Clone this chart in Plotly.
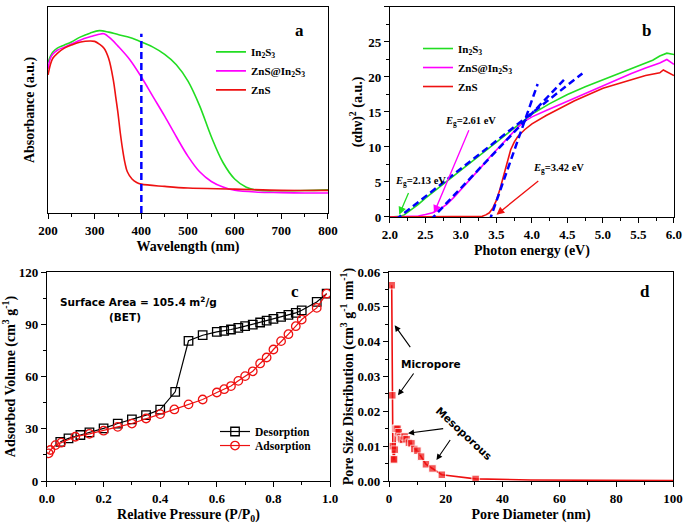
import plotly.graph_objects as go

# ---------------- Panel a: UV-vis absorbance ----------------
wl_in2s3 = [200, 205, 210, 220, 235, 250, 270, 290, 310, 330, 350, 370, 390, 400, 425, 450, 475, 500, 525, 550, 575, 600, 625, 650, 700, 750, 800]
ab_in2s3 = [0.73, 0.76, 0.78, 0.80, 0.815, 0.83, 0.855, 0.873, 0.885, 0.878, 0.866, 0.855, 0.84, 0.83, 0.805, 0.77, 0.72, 0.64, 0.52, 0.37, 0.245, 0.165, 0.125, 0.11, 0.108, 0.109, 0.112]

wl_zns_in2s3 = [200, 205, 210, 220, 235, 250, 270, 290, 310, 320, 335, 350, 375, 400, 425, 450, 475, 500, 525, 550, 575, 600, 650, 700, 750, 800]
ab_zns_in2s3 = [0.70, 0.75, 0.77, 0.79, 0.805, 0.82, 0.84, 0.855, 0.868, 0.87, 0.845, 0.81, 0.745, 0.66, 0.565, 0.47, 0.37, 0.275, 0.2, 0.153, 0.126, 0.11, 0.101, 0.099, 0.097, 0.097]

wl_zns = [200, 205, 210, 220, 235, 250, 270, 290, 300, 310, 320, 330, 340, 345, 350, 355, 360, 365, 370, 380, 390, 400, 450, 500, 600, 700, 800]
ab_zns = [0.67, 0.72, 0.75, 0.775, 0.80, 0.815, 0.83, 0.835, 0.833, 0.82, 0.80, 0.75, 0.645, 0.565, 0.484, 0.387, 0.306, 0.242, 0.2, 0.165, 0.148, 0.14, 0.129, 0.121, 0.116, 0.11, 0.11]

ref_wl = [400, 400]
ref_ab = [0.0, 0.87]

# ---------------- Panel b: Tauc plot ----------------
e_in2s3 = [2.0, 2.1, 2.15, 2.2, 2.3, 2.4, 2.5, 2.6, 2.8, 3.0, 3.2, 3.4, 3.6, 3.8, 3.9, 4.0, 4.25, 4.5, 4.75, 5.0, 5.25, 5.5, 5.7, 5.8, 5.9, 6.0]
t_in2s3 = [0.0, 0.0, 0.1, 0.3, 1.0, 1.8, 2.7, 3.5, 5.1, 6.8, 8.4, 10.0, 11.6, 13.1, 13.9, 14.7, 16.2, 17.5, 18.6, 19.6, 20.6, 21.6, 22.4, 23.0, 23.4, 23.2]

e_zns_in2s3 = [2.0, 2.3, 2.4, 2.5, 2.6, 2.7, 2.8, 2.9, 3.0, 3.1, 3.2, 3.3, 3.4, 3.5, 3.6, 3.7, 3.8, 3.9, 4.0, 4.2, 4.4, 4.6, 4.8, 5.0, 5.2, 5.4, 5.6, 5.8, 5.9, 6.0]
t_zns_in2s3 = [0.0, 0.05, 0.15, 0.35, 0.6, 1.1, 1.8, 2.8, 3.9, 5.0, 6.2, 7.3, 8.5, 9.6, 10.7, 11.8, 12.8, 13.7, 14.3, 15.2, 16.1, 17.0, 17.9, 18.8, 19.6, 20.5, 21.3, 22.0, 22.5, 21.8]

e_zns = [2.0, 3.2, 3.3, 3.35, 3.4, 3.45, 3.5, 3.55, 3.6, 3.65, 3.7, 3.75, 3.8, 3.9, 4.0, 4.2, 4.4, 4.6, 4.8, 5.0, 5.2, 5.4, 5.6, 5.8, 5.85, 6.0]
t_zns = [0.0, 0.0, 0.1, 0.3, 0.6, 1.3, 2.4, 4.0, 6.0, 8.0, 9.6, 10.7, 11.5, 12.5, 13.3, 14.5, 15.6, 16.6, 17.5, 18.4, 19.0, 19.6, 20.2, 20.6, 21.0, 20.2]

fit_in2s3_x = [2.08, 4.71]
fit_in2s3_y = [-0.4, 20.5]
fit_zns_in2s3_x = [2.57, 4.45]
fit_zns_in2s3_y = [-0.45, 19.6]
fit_zns_x = [3.40, 4.08]
fit_zns_y = [-0.6, 19.0]

# ---------------- Panel c: N2 isotherm ----------------
p_des = [0.047, 0.076, 0.118, 0.15, 0.2, 0.25, 0.3, 0.35, 0.4, 0.453, 0.5, 0.55, 0.6, 0.626, 0.65, 0.676, 0.70, 0.727, 0.753, 0.776, 0.8, 0.827, 0.853, 0.879, 0.9, 0.953, 0.988]
v_des = [22.5, 24.5, 26.4, 27.9, 30.2, 33.0, 35.4, 37.8, 41.0, 51.2, 80.5, 83.7, 85.6, 86.2, 87.0, 87.9, 88.9, 89.8, 91.0, 92.1, 93.1, 94.2, 95.4, 96.5, 98.0, 102.8, 107.6]

p_ads = [0.006, 0.012, 0.03, 0.05, 0.1, 0.15, 0.2, 0.25, 0.3, 0.35, 0.4, 0.45, 0.5, 0.55, 0.6, 0.626, 0.65, 0.676, 0.70, 0.727, 0.753, 0.776, 0.8, 0.827, 0.853, 0.879, 0.9, 0.953, 0.988]
v_ads = [15.9, 17.8, 20.6, 22.0, 25.4, 27.1, 28.9, 31.1, 33.0, 35.9, 38.4, 41.1, 44.0, 46.8, 50.8, 52.7, 54.5, 57.5, 60.2, 63.0, 67.5, 70.9, 75.5, 80.3, 84.3, 88.9, 92.7, 99.4, 107.6]

# ---------------- Panel d: pore size distribution ----------------
pore_d = [0.95, 1.15, 1.35, 1.55, 1.8, 2.05, 2.35, 2.65, 3.0, 3.4, 3.85, 4.35, 4.9, 5.5, 6.2, 7.0, 7.9, 8.9, 10.0, 11.3, 13.0, 15.3, 18.6, 30.5, 50, 75, 100]
psd = [0.0562, 0.0246, 0.0100, 0.0062, 0.0062, 0.0090, 0.0150, 0.0150, 0.0150, 0.0140, 0.0125, 0.0120, 0.0118, 0.0128, 0.0120, 0.0110, 0.0108, 0.0092, 0.0087, 0.0070, 0.0048, 0.0036, 0.0018, 0.0006, 0.0003, 0.0002, 0.0001]
psd_marker = [7.5] * 24 + [0, 0, 0]

GREEN = "#22dd22"
MAG = "#ff00ff"
RED = "#ee1111"
BLUE = "#0000ff"
SERIF = "Liberation Serif"

fig = go.Figure()

# panel a
fig.add_trace(go.Scatter(x=wl_in2s3, y=ab_in2s3, mode="lines", name="In<sub>2</sub>S<sub>3</sub>",
                         line=dict(color=GREEN, width=1.6, shape="spline"), xaxis="x", yaxis="y", legend="legend"))
fig.add_trace(go.Scatter(x=wl_zns_in2s3, y=ab_zns_in2s3, mode="lines", name="ZnS@In<sub>2</sub>S<sub>3</sub>",
                         line=dict(color=MAG, width=1.6, shape="spline"), xaxis="x", yaxis="y", legend="legend"))
fig.add_trace(go.Scatter(x=wl_zns, y=ab_zns, mode="lines", name="ZnS",
                         line=dict(color=RED, width=1.6, shape="spline"), xaxis="x", yaxis="y", legend="legend"))
fig.add_trace(go.Scatter(x=ref_wl, y=ref_ab, mode="lines", showlegend=False,
                         line=dict(color=BLUE, width=2.5, dash="7px,4px"), xaxis="x", yaxis="y"))

# panel b
fig.add_trace(go.Scatter(x=e_in2s3, y=t_in2s3, mode="lines", name="In<sub>2</sub>S<sub>3</sub>",
                         line=dict(color=GREEN, width=1.6), xaxis="x2", yaxis="y2", legend="legend2"))
fig.add_trace(go.Scatter(x=e_zns_in2s3, y=t_zns_in2s3, mode="lines", name="ZnS@In<sub>2</sub>S<sub>3</sub>",
                         line=dict(color=MAG, width=1.6), xaxis="x2", yaxis="y2", legend="legend2"))
fig.add_trace(go.Scatter(x=e_zns, y=t_zns, mode="lines", name="ZnS",
                         line=dict(color=RED, width=1.6), xaxis="x2", yaxis="y2", legend="legend2"))
for fx, fy in [(fit_in2s3_x, fit_in2s3_y), (fit_zns_in2s3_x, fit_zns_in2s3_y), (fit_zns_x, fit_zns_y)]:
    fig.add_trace(go.Scatter(x=fx, y=fy, mode="lines", showlegend=False,
                             line=dict(color=BLUE, width=2.5, dash="7px,4px"), xaxis="x2", yaxis="y2"))

# panel c
fig.add_trace(go.Scatter(x=p_des, y=v_des, mode="lines+markers", name="Desorption",
                         line=dict(color="black", width=1.2),
                         marker=dict(symbol="square-open", size=8.5, color="black", line=dict(width=1.3)),
                         xaxis="x3", yaxis="y3", legend="legend3"))
fig.add_trace(go.Scatter(x=p_ads, y=v_ads, mode="lines+markers", name="Adsorption",
                         line=dict(color=RED, width=1.2),
                         marker=dict(symbol="circle-open", size=8.5, color=RED, line=dict(width=1.3)),
                         xaxis="x3", yaxis="y3", legend="legend4"))

# panel d
fig.add_trace(go.Scatter(x=pore_d, y=psd, mode="lines+markers", showlegend=False,
                         line=dict(color=RED, width=1.6),
                         marker=dict(symbol="square", size=psd_marker, color=RED),
                         xaxis="x4", yaxis="y4"))

tickfont = dict(family=SERIF, size=13, color="black", weight="bold")
titlefont = dict(family=SERIF, size=14, color="black", weight="bold")


def ax(domain, rng, dtick, anchor, title, fmt=None, minor=None, labels=True, ticks="outside", standoff=4):
    d = dict(domain=domain, range=rng, dtick=dtick, anchor=anchor, showline=True, linecolor="black",
             linewidth=1.3, mirror=True, ticks=ticks, ticklen=5, tickwidth=1.2, tickcolor="black",
             showgrid=False, zeroline=False, tickfont=tickfont, showticklabels=labels, automargin=False,
             title=dict(text=title, font=titlefont, standoff=standoff))
    if fmt:
        d["tickformat"] = fmt
    if minor:
        d["minor"] = dict(dtick=minor, ticks=ticks, ticklen=3, tickwidth=1, tickcolor="black")
    d["tick0"] = rng[0]
    return d


legfont = dict(family=SERIF, size=11, color="black", weight="bold")
legc = dict(family=SERIF, size=11.5, color="black", weight="bold")

fig.update_layout(
    width=685, height=525,
    margin=dict(l=0, r=0, t=0, b=0, autoexpand=False),
    paper_bgcolor="white", plot_bgcolor="white",
    xaxis=ax([0.0701, 0.4788], [200, 800], 100, "y", "Wavelength (nm)", minor=50),
    yaxis=ax([0.5943, 0.9867], [0, 1], 0.2, "x", "Absorbance (a.u.)", labels=False, ticks="", standoff=8),
    xaxis2=ax([0.5693, 0.9839], [2.0, 6.0], 0.5, "y2", "Photon energy (eV)", fmt=".1f", minor=0.25),
    yaxis2=ax([0.5867, 0.9867], [0, 30], 5, "x2", "(αhν)<sup>2</sup> (a.u.)", minor=2.5, standoff=2),
    xaxis3=ax([0.0686, 0.4818], [0, 1.0], 0.2, "y3", "Relative Pressure (P/P<sub>0</sub>)", fmt=".1f", minor=0.1),
    yaxis3=ax([0.0838, 0.4819], [0, 120], 30, "x3", "Adsorbed Volume (cm<sup>3</sup> g<sup>-1</sup>)", minor=15, standoff=2),
    xaxis4=ax([0.5679, 0.9825], [0, 100], 20, "y4", "Pore Diameter (nm)", minor=10),
    yaxis4=ax([0.0838, 0.4819], [0, 0.06], 0.01, "x4", "Pore Size Distribution (cm<sup>3</sup> g<sup>-1</sup> nm<sup>-1</sup>)", fmt=".2f", minor=0.005, standoff=0),
    legend=dict(x=0.308, y=0.9288, xanchor="left", yanchor="top", bgcolor="rgba(0,0,0,0)", font=legfont),
    legend2=dict(x=0.6102, y=0.9352, xanchor="left", yanchor="top", bgcolor="rgba(0,0,0,0)", font=legfont),
    legend3=dict(x=0.3139, y=0.2057, xanchor="left", yanchor="top", bgcolor="rgba(0,0,0,0)", font=legc),
    legend4=dict(x=0.3139, y=0.179, xanchor="left", yanchor="top", bgcolor="rgba(0,0,0,0)", font=legc),
)

bold_serif = dict(family=SERIF, size=10.5, color="black", weight="bold")
comic = dict(family="DejaVu Sans", size=10.5, color="black", weight="bold")
letter = dict(family=SERIF, size=17, color="black", weight="bold")

ann = [
    dict(x=739, y=0.884, xref="x", yref="y", text="a", showarrow=False, font=letter),
    dict(x=5.61, y=26.6, xref="x2", yref="y2", text="b", showarrow=False, font=letter),
    dict(x=0.876, y=109, xref="x3", yref="y3", text="c", showarrow=False, font=letter),
    dict(x=90, y=0.0543, xref="x4", yref="y4", text="d", showarrow=False, font=letter),
    # panel b labels
    dict(x=2.75, y=13.6, xref="x2", yref="y2", xanchor="left", text="<i>E</i><sub>g</sub>=2.61 eV", showarrow=False, font=bold_serif),
    dict(x=2.04, y=5.0, xref="x2", yref="y2", xanchor="left", text="<i>E</i><sub>g</sub>=2.13 eV", showarrow=False, font=bold_serif),
    dict(x=3.98, y=6.9, xref="x2", yref="y2", xanchor="left", text="<i>E</i><sub>g</sub>=3.42 eV", showarrow=False, font=bold_serif),
    dict(x=2.62, y=0.57, ax=3.12, ay=12.6, xref="x2", yref="y2", axref="x2", ayref="y2", text="",
         showarrow=True, arrowhead=2, arrowsize=1.2, arrowwidth=1.3, arrowcolor=MAG),
    dict(x=2.13, y=0.33, ax=2.27, ay=3.65, xref="x2", yref="y2", axref="x2", ayref="y2", text="",
         showarrow=True, arrowhead=2, arrowsize=1.2, arrowwidth=1.3, arrowcolor=GREEN),
    dict(x=3.5, y=0.33, ax=4.11, ay=5.3, xref="x2", yref="y2", axref="x2", ayref="y2", text="",
         showarrow=True, arrowhead=2, arrowsize=1.2, arrowwidth=1.3, arrowcolor=RED),
    # panel c text
    dict(x=0.324, y=102.8, xref="x3", yref="y3", text="Surface Area = 105.4 m<sup>2</sup>/g", showarrow=False, font=comic),
    dict(x=0.276, y=94.2, xref="x3", yref="y3", text="(BET)", showarrow=False, font=comic),
    # panel d text and arrows
    dict(x=14.9, y=0.0337, xref="x4", yref="y4", text="Micropore", showarrow=False, font=comic),
    dict(x=26.3, y=0.0137, xref="x4", yref="y4", text="Mesoporous", showarrow=False, font=comic, textangle=43),
    dict(x=2.0, y=0.0447, ax=7.86, ay=0.0380, xref="x4", yref="y4", axref="x4", ayref="y4", text="",
         showarrow=True, arrowhead=2, arrowsize=1.1, arrowwidth=1.1, arrowcolor="black"),
    dict(x=3.17, y=0.0246, ax=9.04, ay=0.0313, xref="x4", yref="y4", axref="x4", ayref="y4", text="",
         showarrow=True, arrowhead=2, arrowsize=1.1, arrowwidth=1.1, arrowcolor="black"),
    dict(x=6.69, y=0.0137, ax=19.6, ay=0.0151, xref="x4", yref="y4", axref="x4", ayref="y4", text="",
         showarrow=True, arrowhead=2, arrowsize=1.1, arrowwidth=1.1, arrowcolor="black"),
    dict(x=16.7, y=0.0060, ax=21.9, ay=0.0122, xref="x4", yref="y4", axref="x4", ayref="y4", text="",
         showarrow=True, arrowhead=2, arrowsize=1.1, arrowwidth=1.1, arrowcolor="black"),
]
fig.update_layout(annotations=ann)

fig.write_html("out.html", config={"displayModeBar": False},
               post_script="document.body.style.margin='0';document.body.style.overflow='hidden';")
